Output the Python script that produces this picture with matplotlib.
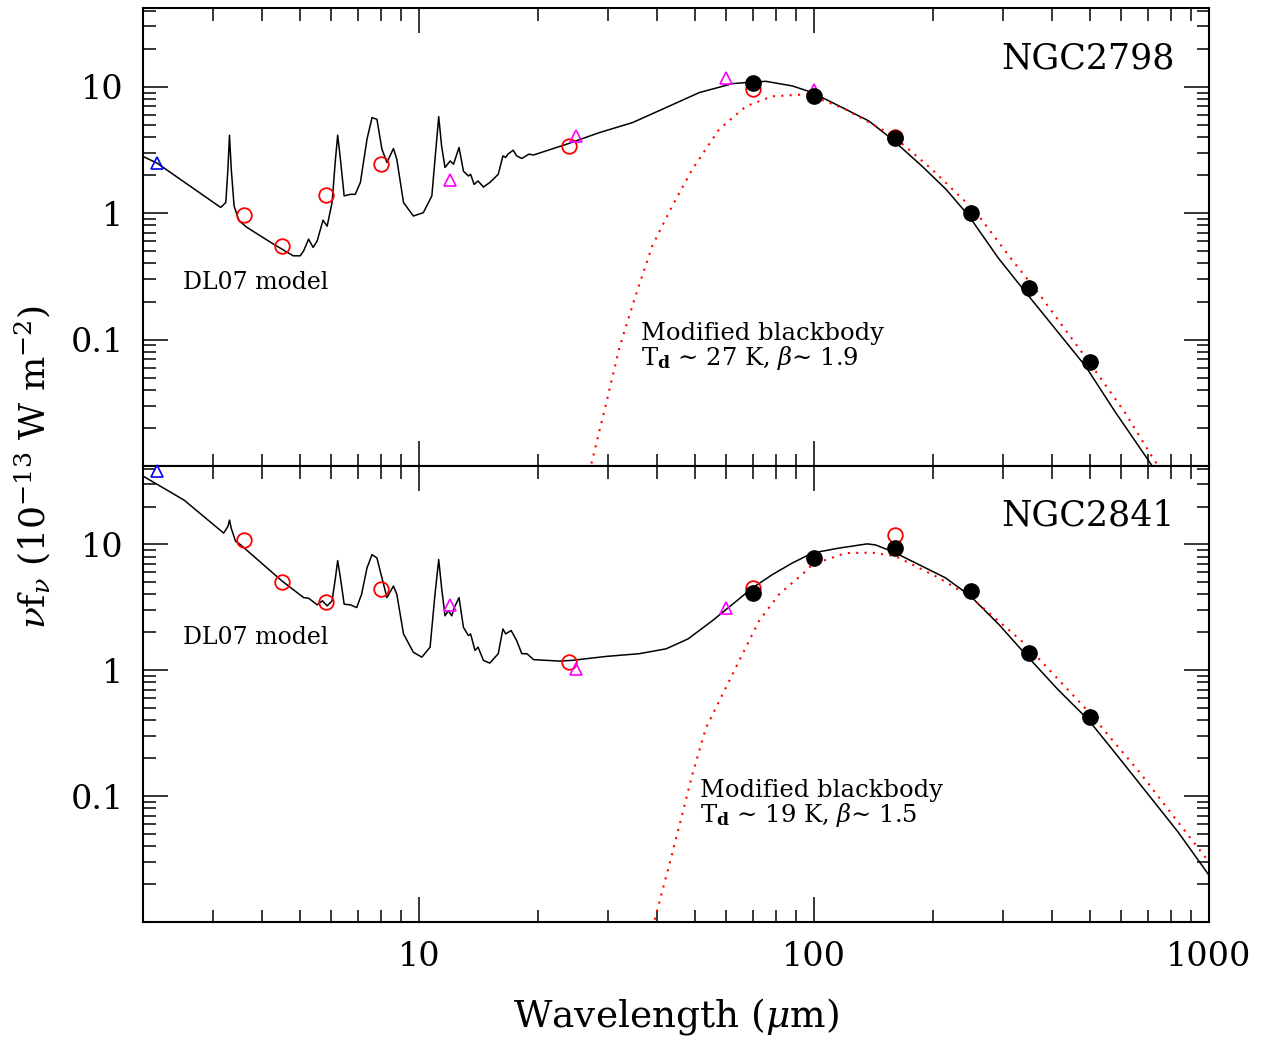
#!/usr/bin/env python3
"""SED of NGC2798 and NGC2841: DL07 model, modified blackbody, photometry."""

import numpy as np
import matplotlib
matplotlib.use("Agg")
import matplotlib.pyplot as plt
from matplotlib.ticker import FixedLocator, LogLocator, NullFormatter, FuncFormatter

plt.rcParams["font.family"] = ["DejaVu Serif"]
plt.rcParams["mathtext.fontset"] = "dejavuserif"

# ---------------------------------------------------------------------------
# Photometry wavelengths (micron)
# ---------------------------------------------------------------------------
wave_2mass = [2.17]
wave_open = [3.6, 4.5, 5.8, 8.0, 24, 70, 160]      # red open circles
wave_iras = [12, 25, 60, 100]                      # magenta triangles
wave_filled = [70, 100, 160, 250, 350, 500]        # black filled circles

# ---------------------------------------------------------------------------
# NGC2798
# ---------------------------------------------------------------------------
n2798_2mass = [2.5]
n2798_open = [0.97, 0.55, 1.40, 2.45, 3.39, 9.55, 4.0]
n2798_iras = [1.83, 4.08, 11.8, 9.4]
n2798_filled = [10.8, 8.46, 3.97, 0.995, 0.254, 0.066]

n2798_model_w = [2.0, 2.17, 3.145, 3.24, 3.28, 3.31, 3.345, 3.40, 3.50, 3.67,
                 4.28, 4.8, 5.0, 5.10, 5.25, 5.39, 5.52, 5.71, 5.85, 6.02,
                 6.14, 6.22, 6.32, 6.46, 6.70, 6.89, 7.10, 7.38, 7.60, 7.82,
                 8.05, 8.29, 8.61, 8.78, 9.13, 9.67, 10.25, 10.77, 10.97, 11.21,
                 11.4, 11.63, 11.98, 12.22, 12.62, 12.95, 13.33, 13.5, 13.78, 14.1,
                 14.55, 15.1, 15.86, 16.3, 16.56, 16.78, 17.3, 17.66, 18.2, 18.95,
                 19.5, 23.6, 28.6, 34.7, 42.2, 51.2, 62.2, 69.8, 75.5, 88.2,
                 99, 115.7, 137.6, 157.5, 187.5, 215.6, 246, 293, 343, 408.6,
                 486.5, 579, 712, 787]
n2798_model_f = [2.81, 2.49, 1.11, 1.215, 2.23, 4.14, 2.23, 1.14, 0.87, 0.77,
                 0.569, 0.46, 0.46, 0.503, 0.623, 0.536, 0.604, 0.88, 0.79, 1.215,
                 2.67, 4.14, 2.67, 1.37, 1.41, 1.41, 1.75, 3.85, 5.71, 5.53,
                 3.21, 2.52, 3.25, 2.67, 1.215, 0.95, 1.01, 1.37, 2.67, 5.81,
                 3.40, 2.30, 2.59, 2.44, 3.31, 2.15, 1.97, 2.03, 1.69, 1.80,
                 1.61, 1.75, 2.03, 2.84, 2.76, 2.93, 3.15, 2.84, 2.71, 2.93,
                 2.89, 3.51, 4.34, 5.21, 6.85, 9.0, 10.6, 10.9, 11.05, 10.15,
                 9.0, 7.05, 5.37, 3.85, 2.36, 1.55, 0.96, 0.44, 0.2375, 0.121,
                 0.0617, 0.0267, 0.0104, 0.0066]

n2798_bb_w = [27.1, 27.3, 29.8, 32.2, 35.1, 38.9, 43.7, 49.2, 57.5, 67.2,
              78.3, 96.6, 120.0, 157.6, 198.6, 255.6, 316, 369, 431.5, 505,
              612, 728, 787]
n2798_bb_f = [0.009, 0.0104, 0.0319, 0.0879, 0.209, 0.548, 1.136, 2.23, 4.61, 7.01,
              8.41, 8.73, 6.64, 4.15, 2.23, 1.04, 0.433, 0.236, 0.121, 0.062,
              0.0266, 0.011, 0.0079]

# ---------------------------------------------------------------------------
# NGC2841
# ---------------------------------------------------------------------------
n2841_2mass = [38.0]
n2841_open = [10.75, 5.05, 3.51, 4.4, 1.16, 4.48, 11.9]
n2841_iras = [3.29, 1.03, 3.15]
n2841_filled = [4.11, 7.8, 9.35, 4.27, 1.38, 0.424]

n2841_model_w = [2.0, 2.54, 3.20, 3.28, 3.31, 3.345, 3.43, 3.53, 4.50, 5.10,
                 5.25, 5.52, 5.69, 5.85, 6.02, 6.14, 6.22, 6.32, 6.46, 6.70,
                 6.95, 7.15, 7.38, 7.60, 7.82, 8.05, 8.29, 8.61, 8.78, 9.13,
                 9.67, 10.16, 10.66, 10.97, 11.21, 11.4, 11.63, 11.86, 12.09, 12.28,
                 12.62, 12.95, 13.33, 13.5, 13.85, 14.1, 14.55, 15.1, 15.86, 16.3,
                 16.56, 17.1, 17.66, 18.2, 18.75, 19.5, 22.7, 24.4, 29.8, 36.1,
                 42.2, 48.0, 55.3, 62.2, 69.6, 78.5, 88.2, 99, 115.7, 136.3,
                 143, 157.6, 184.1, 215, 248.5, 293, 345, 415.6, 494.8, 578,
                 690, 835, 985, 1000]
n2841_model_f = [34.9, 22.5, 12.3, 13.9, 15.6, 13.4, 10.6, 9.94, 5.11, 3.78,
                 3.74, 3.31, 3.56, 3.25, 3.56, 5.43, 7.44, 5.43, 3.35, 3.31,
                 3.15, 4.02, 6.51, 8.3, 7.8, 5.43, 3.78, 4.67, 4.02, 1.945,
                 1.39, 1.27, 1.526, 4.02, 7.58, 4.53, 2.71, 2.97, 2.71, 3.15,
                 3.78, 2.19, 1.887, 1.945, 1.437, 1.526, 1.199, 1.14, 1.354, 2.13,
                 1.945, 2.07, 1.72, 1.354, 1.354, 1.214, 1.183, 1.199, 1.289, 1.354,
                 1.48, 1.777, 2.48, 3.35, 4.48, 5.77, 7.13, 8.54, 9.35, 10.1,
                 9.91, 8.81, 6.92, 5.43, 3.90, 2.33, 1.313, 0.696, 0.404, 0.221,
                 0.110, 0.0518, 0.0251, 0.0235]

n2841_bb_w = [39.0, 43.7, 46.5, 49.2, 53.2, 58.0, 64.7, 72.6, 81.6, 95.3,
              99, 120.2, 140.8, 161, 206.9, 227.5, 250, 342, 494.8, 668,
              835, 985, 1000]
n2841_bb_f = [0.009, 0.0346, 0.0744, 0.149, 0.346, 0.599, 1.20, 2.48, 4.02, 6.13,
              6.92, 8.54, 8.6, 8.05, 5.43, 4.53, 3.78, 1.62, 0.47, 0.154,
              0.062, 0.0319, 0.030]


# ---------------------------------------------------------------------------
# Plotting
# ---------------------------------------------------------------------------

def style_axis(ax, show_xlabels):
    ax.set_xscale("log")
    ax.set_yscale("log")
    ax.set_xlim(2, 1000)
    ax.set_ylim(0.01, 42)

    fmt = FuncFormatter(lambda v, _: f"{v:g}")
    ax.xaxis.set_major_locator(FixedLocator([10, 100, 1000]))
    ax.xaxis.set_minor_locator(LogLocator(base=10, subs=np.arange(2, 10), numticks=20))
    ax.yaxis.set_major_locator(FixedLocator([0.1, 1, 10]))
    ax.yaxis.set_minor_locator(LogLocator(base=10, subs=np.arange(2, 10), numticks=20))
    ax.yaxis.set_major_formatter(fmt)
    ax.yaxis.set_minor_formatter(NullFormatter())
    ax.xaxis.set_minor_formatter(NullFormatter())
    if show_xlabels:
        ax.xaxis.set_major_formatter(fmt)
    else:
        ax.xaxis.set_major_formatter(NullFormatter())

    ax.tick_params(which="both", direction="in", top=True, right=True,
                   width=1.1, color="black")
    ax.tick_params(which="major", length=18, labelsize=24, pad=14)
    ax.tick_params(which="minor", length=9)
    for sp in ax.spines.values():
        sp.set_linewidth(1.5)


def draw_panel(ax, model_w, model_f, bb_w, bb_f, f2mass, fopen, firas, ffilled,
               name, temp_text, bb_xy):
    ax.plot(model_w, model_f, color="black", linewidth=1.1, zorder=2)
    ax.plot(bb_w, bb_f, color="red", linewidth=1.5, linestyle=(0, (1, 3)), zorder=2)

    ax.plot(wave_2mass, f2mass, linestyle="none", marker="^", ms=9, mfc="none",
            mec="blue", mew=1.2, zorder=3, clip_on=False)
    ax.plot(wave_open, fopen, linestyle="none", marker="o", ms=10.5, mfc="none",
            mec="red", mew=1.3, zorder=3)
    ax.plot(wave_iras[:len(firas)], firas, linestyle="none", marker="^", ms=9,
            mfc="none", mec="magenta", mew=1.2, zorder=3)
    ax.plot(wave_filled, ffilled, linestyle="none", marker="o", ms=11,
            color="black", zorder=4)

    ax.text(0.968, 0.869, name, transform=ax.transAxes, ha="right",
            va="baseline", fontsize=25)
    ax.text(bb_xy[0], bb_xy[1], "Modified blackbody", transform=ax.transAxes,
            ha="left", va="baseline", fontsize=17.5)
    ax.text(bb_xy[0], bb_xy[1] - 0.055, temp_text, transform=ax.transAxes,
            ha="left", va="baseline", fontsize=17.5)


def main():
    fig = plt.figure(figsize=(12.66, 10.42), dpi=100)
    ax1 = fig.add_axes([0.113, 0.5528, 0.842, 0.4395])
    ax2 = fig.add_axes([0.113, 0.1152, 0.842, 0.4376])

    draw_panel(ax1, n2798_model_w, n2798_model_f, n2798_bb_w, n2798_bb_f,
               n2798_2mass, n2798_open, n2798_iras, n2798_filled,
               "NGC2798", r"T$_{\mathbf{d}}$ ∼ 27 K, $\beta$∼ 1.9",
               (0.467, 0.275))
    ax1.text(0.0375, 0.386, "DL07 model", transform=ax1.transAxes,
             ha="left", va="baseline", fontsize=17)

    draw_panel(ax2, n2841_model_w, n2841_model_f, n2841_bb_w, n2841_bb_f,
               n2841_2mass, n2841_open, n2841_iras, n2841_filled,
               "NGC2841", r"T$_{\mathbf{d}}$ ∼ 19 K, $\beta$∼ 1.5",
               (0.5225, 0.274))
    ax2.text(0.0375, 0.61, "DL07 model", transform=ax2.transAxes,
             ha="left", va="baseline", fontsize=17)

    style_axis(ax1, show_xlabels=False)
    style_axis(ax2, show_xlabels=True)

    ax2.set_xlabel(r"Wavelength ($\mu$m)", fontsize=27, labelpad=16)
    fig.text(0.026, 0.552, r"$\nu$f$_\nu$ (10$^{-13}$ W m$^{-2}$)", rotation=90,
             ha="center", va="center", fontsize=26)

    fig.savefig("out.png", dpi=100)


if __name__ == "__main__":
    main()
